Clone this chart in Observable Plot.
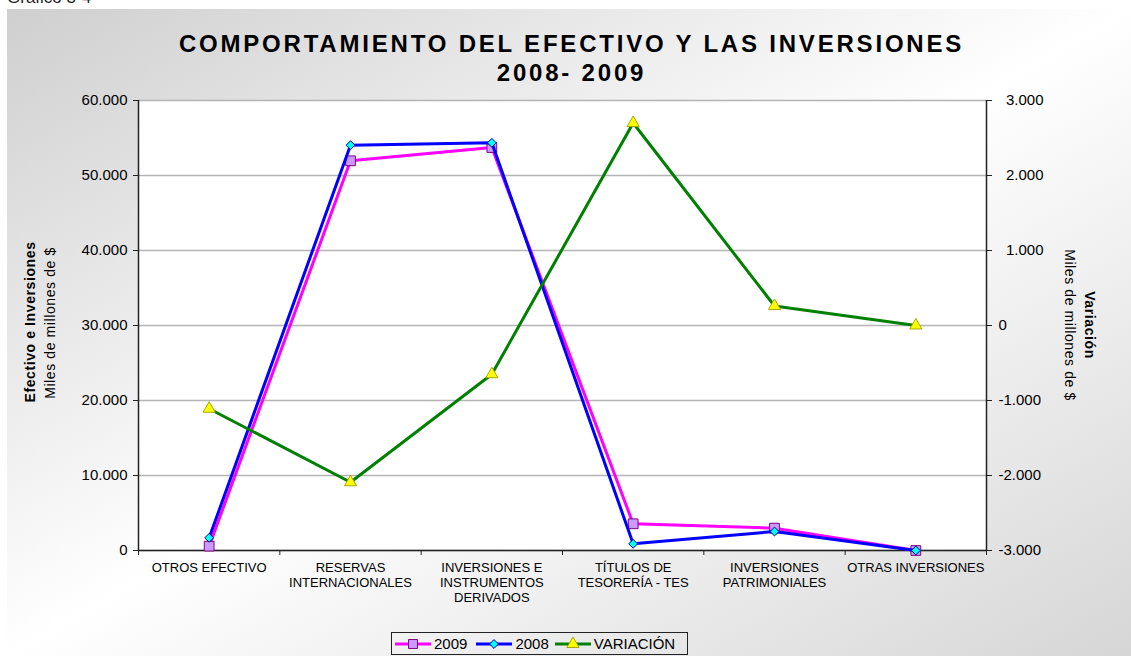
<!DOCTYPE html>
<html>
<head>
<meta charset="utf-8">
<script src="https://cdn.jsdelivr.net/npm/d3@7"></script>
<script src="https://cdn.jsdelivr.net/npm/@observablehq/plot@0.6"></script>
<style>
  html, body { margin: 0; padding: 0; background: #fff; }
  body { font-family: "Liberation Sans", Arial, sans-serif; }
  #wrap { position: relative; width: 1131px; height: 656px; overflow: hidden; }
  #bg { position: absolute; left: 7px; top: 9px; width: 1124px; height: 647px;
        background: linear-gradient(to bottom right, #cfcfcf 0%, #ffffff 50%, #d6d6d6 100%); }
  #pre { position: absolute; left: 7px; top: -12px; font-size: 17px; color: #222; white-space: nowrap; }
  .title { position: absolute; left: 0; width: 1131px; text-align: center; font-weight: bold;
           font-size: 24px; letter-spacing: 2.8px; color: #000; white-space: nowrap; }
  .rot { position: absolute; white-space: nowrap; color: #000; font-size: 14px; letter-spacing: 0.6px; }
  #chart { position: absolute; left: 0; top: 0; }
  #legend { position: absolute; left: 391px; top: 632px; width: 295px; height: 21px;
            border: 1px solid #222; display: flex; align-items: center; font-size: 15px; color: #000; }
  #legend .item { display: flex; align-items: center; }
  #legend svg { display: block; }
</style>
</head>
<body>
<div id="wrap">
  <div id="bg"></div>
  <div id="pre">Gráfico 3-4</div>
  <div class="title" style="top:30px;left:6px;">COMPORTAMIENTO DEL EFECTIVO Y LAS INVERSIONES</div>
  <div class="title" style="top:59px;left:6px;">2008- 2009</div>
  <div id="chart"></div>
  <div class="rot" style="left:30px;top:322px;transform:translate(-50%,-50%) rotate(-90deg);font-weight:bold;">Efectivo e Inversiones</div>
  <div class="rot" style="left:50px;top:323px;transform:translate(-50%,-50%) rotate(-90deg);">Miles de millones de $</div>
  <div class="rot" style="left:1090px;top:325px;transform:translate(-50%,-50%) rotate(90deg);font-weight:bold;">Variación</div>
  <div class="rot" style="left:1070px;top:325px;transform:translate(-50%,-50%) rotate(90deg);">Miles de millones de $</div>
  <div id="legend"></div>
</div>
<script>
// ---- Data ----
const categories = [
  "OTROS EFECTIVO",
  "RESERVAS\nINTERNACIONALES",
  "INVERSIONES E\nINSTRUMENTOS\nDERIVADOS",
  "TÍTULOS DE\nTESORERÍA - TES",
  "INVERSIONES\nPATRIMONIALES",
  "OTRAS INVERSIONES"
];
const values2009 = [580, 51960, 53730, 3560, 2980, 0];
const values2008 = [1690, 54040, 54360, 890, 2530, 0];
const variacion = [-1110, -2090, -650, 2700, 260, 0];
const leftTicks = [0, 10000, 20000, 30000, 40000, 50000, 60000];
const rightTicks = [-3000, -2000, -1000, 0, 1000, 2000, 3000];

// ---- Helpers ----
const fmt = d3.formatLocale({decimal: ",", thousands: ".", grouping: [3], currency: ["$", ""], minus: "-"}).format(",d");
const rightDomain = [-3000, 3000];
const leftDomain = [0, 60000];
const toLeft = v => leftDomain[0] + (v - rightDomain[0]) / (rightDomain[1] - rightDomain[0]) * (leftDomain[1] - leftDomain[0]);
const fromLeft = y => rightDomain[0] + (y - leftDomain[0]) / (leftDomain[1] - leftDomain[0]) * (rightDomain[1] - rightDomain[0]);

const rows = categories.map((c, i) => ({i, c, v2009: values2009[i], v2008: values2008[i], vv: variacion[i]}));
const boundaries = d3.range(categories.length + 1).map(k => k - 0.5);

const c2009 = {line: "#ff00ff", fill: "#cc99ff", stroke: "#800080"};
const c2008 = {line: "#0000ff", fill: "#00ffff", stroke: "#000080"};
const cVar = {line: "#008000", fill: "#ffff00", stroke: "#a8a800"};

const chart = Plot.plot({
  width: 1131,
  height: 656,
  marginLeft: 138,
  marginRight: 145,
  marginTop: 100,
  marginBottom: 106,
  style: {background: "transparent", overflow: "visible", fontFamily: "'Liberation Sans', Arial, sans-serif", color: "#000"},
  x: {type: "linear", domain: [-0.5, categories.length - 0.5]},
  y: {domain: leftDomain},
  marks: [
    Plot.frame({fill: "white", stroke: "none"}),
    Plot.gridY(leftTicks, {stroke: "#b4b4b4", strokeOpacity: 1, strokeWidth: 1.5}),
    Plot.axisY(leftTicks, {anchor: "left", tickSize: 5, tickPadding: 6, tickFormat: fmt, fontSize: 15, letterSpacing: "0.8px", label: null, stroke: "#222"}),
    Plot.axisY(rightTicks.map(toLeft), {anchor: "right", tickSize: 5, tickPadding: 7, textAnchor: "start",
      tickFormat: d => { const v = Math.round(fromLeft(d)); return (v > 0 ? "\u2002" : "") + fmt(v); },
      fontSize: 15, letterSpacing: "0.8px", label: null, stroke: "#222"}),
    Plot.axisX(boundaries, {anchor: "bottom", tickSize: 5, tickFormat: () => "", label: null, stroke: "#222"}),
    Plot.axisX(d3.range(categories.length), {anchor: "bottom", tickSize: 0, tickPadding: 11,
      tickFormat: i => categories[i], fontSize: 13, lineHeight: 1.15, label: null}),
    Plot.ruleX([-0.5, categories.length - 0.5], {stroke: "#222", strokeWidth: 1.5}),
    Plot.ruleY([0], {stroke: "#222", strokeWidth: 1.5}),
    // 2009
    Plot.line(rows, {x: "i", y: "v2009", stroke: c2009.line, strokeWidth: 3}),
    Plot.dot(rows, {x: "i", y: "v2009", symbol: "square", r: 5.5, fill: c2009.fill, stroke: c2009.stroke, strokeWidth: 1}),
    // 2008
    Plot.line(rows, {x: "i", y: "v2008", stroke: c2008.line, strokeWidth: 3}),
    Plot.dot(rows, {x: "i", y: "v2008", symbol: "diamond2", r: 4, fill: c2008.fill, stroke: c2008.stroke, strokeWidth: 1}),
    // Variación (secondary axis)
    Plot.line(rows, {x: "i", y: d => toLeft(d.vv), stroke: cVar.line, strokeWidth: 3}),
    Plot.dot(rows, {x: "i", y: d => toLeft(d.vv), symbol: "triangle", r: 4.5, fill: cVar.fill, stroke: cVar.stroke, strokeWidth: 1})
  ]
});
document.getElementById("chart").appendChild(chart);

// ---- Legend ----
const legendItems = [
  {label: "2009", c: c2009, sym: d3.symbolSquare, size: 80},
  {label: "2008", c: c2008, sym: d3.symbolDiamond2, size: 50},
  {label: "VARIACIÓN", c: cVar, sym: d3.symbolTriangle, size: 64}
];
const legend = d3.select("#legend");
legendItems.forEach((it, k) => {
  const item = legend.append("div").attr("class", "item")
    .style("margin-left", k === 0 ? "3px" : (k === 1 ? "9px" : "6px"));
  const svg = item.append("svg").attr("width", 36).attr("height", 14);
  svg.append("line").attr("x1", 0).attr("x2", 36).attr("y1", 7).attr("y2", 7)
    .attr("stroke", it.c.line).attr("stroke-width", 3);
  svg.append("path").attr("d", d3.symbol(it.sym, it.size)()).attr("transform", "translate(18,7)")
    .attr("fill", it.c.fill).attr("stroke", it.c.stroke).attr("stroke-width", 1);
  item.append("span").style("margin-left", "3px").text(it.label);
});
</script>
</body>
</html>
